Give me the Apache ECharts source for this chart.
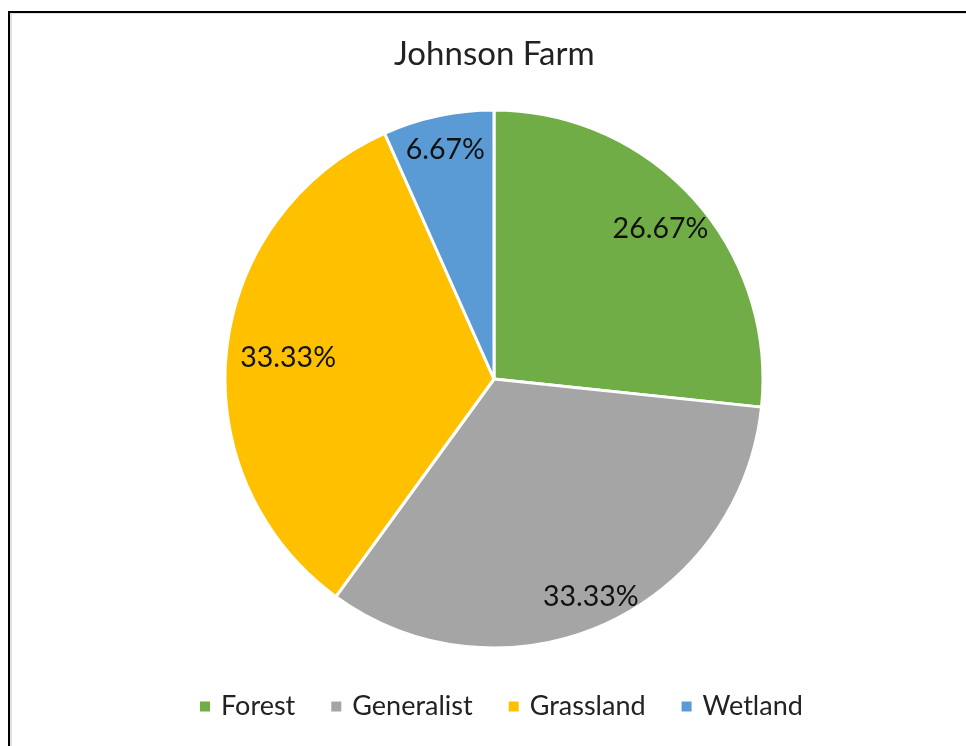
<!DOCTYPE html>
<html>
<head>
<meta charset="utf-8">
<title>Johnson Farm</title>
<script src="https://cdn.jsdelivr.net/npm/echarts@6/dist/echarts.min.js"></script>
<style>
  html, body { margin: 0; padding: 0; background: #fff; }
  #chart { width: 966px; height: 746px; }
</style>
</head>
<body>
<div id="chart"></div>
<script>
// habitat categories and counts (shares: 26.67 / 33.33 / 33.33 / 6.67 %)
var habitats = ['Forest', 'Generalist', 'Grassland', 'Wetland'];
var counts = [4, 5, 5, 1];
var colors = ['#70AD47', '#A5A5A5', '#FFC000', '#5B9BD5'];

window.onload = function() {
    var myChart = echarts.init(document.getElementById('chart'));
    var font = 'Lato';
    var cx = 494, cy = 379;
    // distance of each percentage label from the centre (excel "best fit" look)
    var labelDist = [224, 238, 207, 234];

    var pieData = habitats.map(function(name, i) {
        return { name: name, value: counts[i], itemStyle: { color: colors[i] } };
    });

    var option = {
        backgroundColor: '#fff',
        animation: false,
        title: {
            text: 'Johnson Farm',
            left: 389,
            top: 33,
            textStyle: { fontFamily: font, fontSize: 33, fontWeight: 'normal', color: '#222' }
        },
        legend: {
            data: habitats,
            bottom: 21,
            left: 193,
            icon: 'rect',
            itemWidth: 12,
            itemHeight: 12,
            itemGap: 34,
            textStyle: { fontFamily: font, fontSize: 27, color: '#222', padding: [0, 0, 0, 5] }
        },
        graphic: [
            { type: 'rect', shape: { x: 8, y: 11, width: 2, height: 740 }, style: { fill: '#000' } },
            { type: 'rect', shape: { x: 8, y: 11, width: 960, height: 2 }, style: { fill: '#000' } },
            { type: 'rect', shape: { x: 10, y: 13, width: 2, height: 740 }, style: { fill: '#e0e0e0' } },
            { type: 'rect', shape: { x: 10, y: 13, width: 960, height: 1 }, style: { fill: '#e0e0e0' } }
        ],
        series: [{
            name: 'Johnson Farm',
            type: 'pie',
            center: [cx, cy],
            radius: [0, 269],
            startAngle: 90,
            clockwise: true,
            label: { show: false },
            labelLine: { show: false },
            itemStyle: { borderColor: '#fff', borderWidth: 3 },
            data: pieData
        }, {
            // transparent ring carrying the percentage labels
            name: 'labels',
            type: 'pie',
            silent: true,
            center: [cx, cy],
            radius: [180, 270],
            startAngle: 90,
            clockwise: true,
            legendHoverLink: false,
            itemStyle: { color: 'transparent', borderWidth: 0 },
            label: {
                show: true,
                position: 'inside',
                formatter: function(p) { return p.percent.toFixed(2) + '%'; },
                fontFamily: font,
                fontSize: 28.5,
                color: '#111'
            },
            labelLine: { show: false },
            labelLayout: function(params) {
                var r = params.labelRect;
                var lx = r.x + r.width / 2 - cx;
                var ly = r.y + r.height / 2 - cy;
                var d = Math.sqrt(lx * lx + ly * ly);
                var k = labelDist[params.dataIndex] / d - 1;
                return { dx: lx * k, dy: ly * k };
            },
            data: habitats.map(function(name, i) { return { name: name + ' ', value: counts[i] }; })
        }]
    };

    myChart.setOption(option);
};
</script>
</body>
</html>
